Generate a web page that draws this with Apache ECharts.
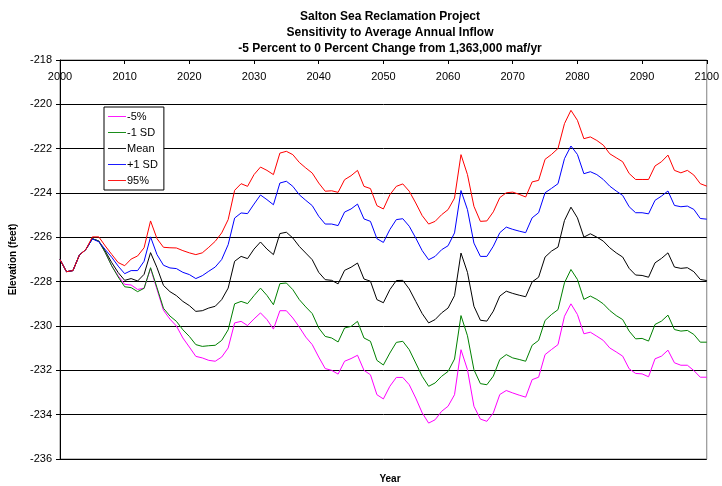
<!DOCTYPE html>
<html>
<head>
<meta charset="utf-8">
<script src="https://cdn.jsdelivr.net/npm/echarts@6/dist/echarts.min.js"></script>
<style>
  html, body { margin: 0; padding: 0; background: #fff; }
  #chart { width: 722px; height: 486px; }
</style>
</head>
<body>
<div id="chart"></div>
<script>
// years 2000..2100, one value per year (elevation in feet)
const years = [];
for (let y = 2000; y <= 2100; y++) years.push(y);

const seriesNames = ['-5%', '-1 SD', 'Mean', '+1 SD', '95%'];
const seriesColors = ['#ff00ff', '#008000', '#000000', '#0000ff', '#ff0000'];

const pct5 = [
  -227.0, -227.55, -227.5, -226.8, -226.55, -226.06, -226.17, -226.69, -227.29, -227.74,
  -228.12, -228.15, -228.35, -228.3, -227.4, -228.35, -229.29, -229.69, -230.0, -230.54,
  -230.95, -231.37, -231.44, -231.55, -231.59, -231.4, -230.99, -229.86, -229.79, -229.98,
  -229.68, -229.41, -229.71, -230.14, -229.31, -229.31, -229.64, -230.05, -230.5, -230.84,
  -231.4, -231.92, -232.0, -232.17, -231.59, -231.47, -231.32, -232.0, -232.2, -233.1,
  -233.29, -232.72, -232.32, -232.32, -232.65, -233.25, -233.92, -234.38, -234.23, -233.85,
  -233.62, -233.1, -231.07, -231.97, -233.62, -234.2, -234.3, -233.92, -233.09, -232.91,
  -233.02, -233.12, -233.21, -232.42, -232.31, -231.29, -231.06, -230.84, -229.56, -229.0,
  -229.48, -230.35, -230.28, -230.46, -230.65, -230.99, -231.17, -231.36, -231.93, -232.14,
  -232.16, -232.29, -231.48, -231.36, -231.09, -231.66, -231.77, -231.77, -232.01, -232.31,
  -232.31
];

const minus1sd = [
  -227.0, -227.55, -227.5, -226.8, -226.55, -226.06, -226.17, -226.69, -227.29, -227.79,
  -228.23, -228.27, -228.45, -228.3, -227.37, -228.27, -229.2, -229.55, -229.79, -230.17,
  -230.47, -230.84, -230.92, -230.89, -230.87, -230.65, -230.17, -229.0, -228.89, -228.99,
  -228.63, -228.29, -228.62, -229.04, -228.09, -228.06, -228.36, -228.81, -229.14, -229.44,
  -230.09, -230.47, -230.54, -230.72, -230.09, -230.02, -229.79, -230.54, -230.69, -231.55,
  -231.76, -231.22, -230.74, -230.69, -231.07, -231.67, -232.27, -232.72, -232.57, -232.27,
  -232.05, -231.49, -229.53, -230.44, -231.97, -232.6, -232.65, -232.26, -231.51, -231.29,
  -231.44, -231.51, -231.59, -230.87, -230.65, -229.75, -229.48, -229.26, -228.05, -227.45,
  -227.9, -228.8, -228.65, -228.8, -229.0, -229.3, -229.53, -229.71, -230.23, -230.58,
  -230.56, -230.68, -229.93, -229.78, -229.51, -230.16, -230.23, -230.2, -230.38, -230.73,
  -230.73
];

const mean = [
  -227.0, -227.55, -227.5, -226.8, -226.55, -226.06, -226.17, -226.62, -227.14, -227.59,
  -227.94, -227.86, -227.97, -227.67, -226.69, -227.37, -228.17, -228.45, -228.63, -228.89,
  -229.08, -229.34, -229.31, -229.19, -229.11, -228.81, -228.29, -227.08, -226.86, -226.96,
  -226.53, -226.21, -226.53, -226.78, -225.83, -225.77, -226.03, -226.41, -226.71, -227.01,
  -227.58, -227.91, -227.94, -228.1, -227.49, -227.35, -227.16, -227.88, -227.98, -228.81,
  -228.95, -228.36, -227.95, -227.94, -228.33, -228.89, -229.44, -229.86, -229.71, -229.41,
  -229.19, -228.63, -226.71, -227.58, -229.11, -229.74, -229.78, -229.33, -228.65, -228.43,
  -228.53, -228.61, -228.68, -228.01, -227.8, -226.89, -226.62, -226.44, -225.24, -224.64,
  -225.12, -225.99, -225.84, -225.99, -226.17, -226.47, -226.7, -226.89, -227.4, -227.7,
  -227.72, -227.8, -227.15, -226.95, -226.7, -227.34, -227.4, -227.37, -227.55, -227.9,
  -227.95
];

const plus1sd = [
  -227.0, -227.55, -227.5, -226.8, -226.55, -226.07, -226.2, -226.55, -226.9, -227.3,
  -227.64, -227.5, -227.5, -227.08, -225.98, -226.78, -227.26, -227.38, -227.41, -227.58,
  -227.68, -227.86, -227.73, -227.53, -227.34, -227.0, -226.33, -225.13, -224.9, -224.93,
  -224.5, -224.09, -224.3, -224.53, -223.55, -223.47, -223.7, -224.08, -224.33, -224.57,
  -225.05, -225.4, -225.4, -225.47, -224.86, -224.72, -224.5, -225.17, -225.28, -226.06,
  -226.23, -225.65, -225.2, -225.16, -225.5, -226.03, -226.6, -227.01, -226.86, -226.56,
  -226.38, -225.8, -223.89, -224.75, -226.26, -226.86, -226.86, -226.4, -225.79, -225.54,
  -225.64, -225.72, -225.79, -225.12, -224.89, -223.99, -223.79, -223.58, -222.45, -221.88,
  -222.26, -223.13, -223.04, -223.17, -223.39, -223.69, -223.91, -224.11, -224.62, -224.89,
  -224.89, -224.94, -224.33, -224.14, -223.91, -224.56, -224.62, -224.59, -224.74, -225.15,
  -225.18
];

const pct95 = [
  -227.0, -227.55, -227.5, -226.8, -226.55, -225.98, -225.98, -226.39, -226.77, -227.14,
  -227.28, -226.98, -226.84, -226.47, -225.26, -226.06, -226.45, -226.47, -226.48, -226.6,
  -226.7, -226.78, -226.7, -226.45, -226.18, -225.8, -225.2, -223.88, -223.58, -223.7,
  -223.17, -222.83, -222.98, -223.17, -222.2, -222.12, -222.27, -222.62, -222.87, -223.1,
  -223.55, -223.92, -223.9, -223.97, -223.4, -223.22, -222.98, -223.7, -223.8, -224.57,
  -224.72, -224.08, -223.7, -223.59, -223.92, -224.45, -225.02, -225.4, -225.28, -224.98,
  -224.75, -224.23, -222.27, -223.17, -224.6, -225.28, -225.26, -224.85, -224.21, -223.99,
  -223.96, -224.06, -224.18, -223.5, -223.43, -222.48, -222.26, -221.99, -220.87, -220.27,
  -220.72, -221.55, -221.47, -221.63, -221.84, -222.23, -222.41, -222.59, -223.12, -223.39,
  -223.39, -223.39, -222.78, -222.59, -222.29, -222.98, -223.09, -222.98, -223.19, -223.58,
  -223.69
];

const seriesValues = [pct5, minus1sd, mean, plus1sd, pct95];

const chart = echarts.init(document.getElementById('chart'), null, { renderer: 'canvas' });

const font = 'Liberation Sans, Arial, sans-serif';

chart.setOption({
  animation: false,
  backgroundColor: '#ffffff',
  title: [
    {
      text: 'Salton Sea Reclamation Project\nSensitivity to Average Annual Inflow\n-5 Percent to 0 Percent Change from 1,363,000 maf/yr',
      left: 385,
      top: 4,
      textAlign: 'center',
      textStyle: { fontFamily: font, fontSize: 12, fontWeight: 'bold', color: '#000', lineHeight: 16 }
    },
    {
      text: 'Year',
      left: 385,
      top: 469,
      textAlign: 'center',
      textStyle: { fontFamily: font, fontSize: 10, fontWeight: 'bold', color: '#000' }
    }
  ],
  legend: {
    orient: 'vertical',
    left: 104,
    top: 107,
    data: seriesNames,
    icon: 'path://M0,0 L20,0 L20,1 L0,1 Z',
    itemWidth: 18,
    itemHeight: 1,
    itemGap: 5,
    padding: [4, 6, 4, 4],
    borderColor: '#000',
    borderWidth: 1,
    borderRadius: 0,
    backgroundColor: '#fff',
    textStyle: { fontFamily: font, fontSize: 11, color: '#000', padding: [0, 0, 0, -4], lineHeight: 11 }
  },
  grid: {
    left: 60,
    right: 13,
    top: 60,
    bottom: 27,
    show: true,
    borderColor: '#808080',
    borderWidth: 1,
    backgroundColor: '#fff'
  },
  xAxis: {
    type: 'value',
    position: 'top',
    min: 2000,
    max: 2100,
    interval: 10,
    axisLine: { show: true, lineStyle: { color: '#000', width: 1 } },
    axisTick: { show: true, inside: true, length: 4, lineStyle: { color: '#000' } },
    axisLabel: {
      inside: true,
      margin: 11,
      fontFamily: font,
      fontSize: 11,
      color: '#000',
      formatter: v => String(v)
    },
    splitLine: { show: false }
  },
  yAxis: {
    type: 'value',
    min: -236,
    max: -218,
    interval: 2,
    name: 'Elevation (feet)',
    nameLocation: 'middle',
    nameGap: 42,
    nameRotate: 90,
    nameTextStyle: { fontFamily: font, fontSize: 10, fontWeight: 'bold', color: '#000' },
    axisLine: { show: true, lineStyle: { color: '#000', width: 1 } },
    axisTick: { show: true, inside: false, length: 4, lineStyle: { color: '#000' } },
    axisLabel: { fontFamily: font, fontSize: 11, color: '#000', margin: 8 },
    splitLine: { show: true, lineStyle: { color: '#000', width: 1 } }
  },
  series: seriesNames.map((name, i) => ({
    name: name,
    type: 'line',
    data: years.map((y, j) => [y, seriesValues[i][j]]),
    symbol: 'none',
    smooth: false,
    lineStyle: { color: seriesColors[i], width: 1 },
    itemStyle: { color: seriesColors[i] },
    z: 2 + (i === 2 ? 0 : i)
  }))
});

window.addEventListener('resize', () => chart.resize());
</script>
</body>
</html>
